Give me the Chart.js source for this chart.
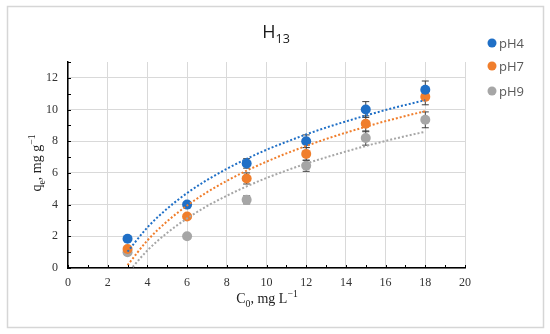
<!DOCTYPE html>
<html>
<head>
<meta charset="utf-8">
<script src="https://cdn.jsdelivr.net/npm/chart.js@4"></script>
<style>
  body { margin: 0; background: #fff; }
  #wrap { width: 550px; height: 334px; }
</style>
</head>
<body>
<div id="wrap"><canvas id="chart" width="550" height="334"></canvas></div>
<script>
// measured points
const concX = [3, 6, 9, 12, 15, 18];
const ph4 = [1.85, 4.0, 6.6, 8.0, 10.0, 11.25];
const ph7 = [1.2, 3.25, 5.65, 7.2, 9.1, 10.8];
const ph9 = [1.0, 2.0, 4.3, 6.45, 8.2, 9.35];
const ph4Err = [0.1, 0.15, 0.3, 0.4, 0.5, 0.55];
const ph7Err = [0.1, 0.1, 0.35, 0.4, 0.5, 0.5];
const ph9Err = [0.1, 0.1, 0.25, 0.35, 0.45, 0.5];

// dotted trend lines
const trendX = [3, 4, 5, 6, 7, 8, 9, 10, 11, 12, 13, 14, 15, 16, 17, 18];
const ph4Trend = [1.03, 2.56, 3.75, 4.73, 5.55, 6.26, 6.89, 7.46, 7.96, 8.43, 8.86, 9.25, 9.62, 9.97, 10.29, 10.59];
const ph7Trend = [0.18, 1.74, 2.95, 3.94, 4.78, 5.5, 6.14, 6.71, 7.23, 7.7, 8.14, 8.54, 8.91, 9.27, 9.59, 9.9];
const ph9Trend = [-0.32, 1.11, 2.22, 3.13, 3.9, 4.56, 5.15, 5.68, 6.15, 6.59, 6.98, 7.35, 7.7, 8.02, 8.32, 8.6];

const seriesNames = ['pH4', 'pH7', 'pH9'];
const colors = ['#1f6fc6', '#f07e2c', '#a6a6a6'];

const serif = '"Liberation Serif", "DejaVu Serif", serif';
const sans = '"Open Sans", "Liberation Sans", sans-serif';

function pts(xs, ys) {
    return xs.map((x, i) => ({x: x, y: ys[i]}));
}

// draws text pieces with sub/superscripts, centred on x
function drawRich(ctx, parts, x, y, size, family) {
    let widths = parts.map(p => {
        ctx.font = (p.s ? size * 0.7 : size) + 'px ' + family;
        return ctx.measureText(p.t).width;
    });
    let total = widths.reduce((a, b) => a + b, 0);
    let cx = x - total / 2;
    ctx.textAlign = 'left';
    ctx.textBaseline = 'alphabetic';
    parts.forEach((p, i) => {
        ctx.font = (p.s ? size * 0.7 : size) + 'px ' + family;
        let dy = p.s === 1 ? -size * 0.4 : (p.s === -1 ? size * 0.25 : 0);
        ctx.fillText(p.t, cx, y + dy);
        cx += widths[i];
    });
}

const errorBars = {
    id: 'errorBars',
    beforeDatasetsDraw(chart) {
        const ctx = chart.ctx;
        const xs = chart.scales.x, ys = chart.scales.y;
        const errs = [ph4Err, ph7Err, ph9Err];
        const vals = [ph4, ph7, ph9];
        ctx.save();
        ctx.strokeStyle = '#404040';
        ctx.lineWidth = 1;
        for (let s = 0; s < 3; s++) {
            for (let i = 0; i < concX.length; i++) {
                let px = xs.getPixelForValue(concX[i]);
                let top = ys.getPixelForValue(vals[s][i] + errs[s][i]);
                let bot = ys.getPixelForValue(vals[s][i] - errs[s][i]);
                ctx.beginPath();
                ctx.moveTo(px, top); ctx.lineTo(px, bot);
                ctx.moveTo(px - 3.5, top); ctx.lineTo(px + 3.5, top);
                ctx.moveTo(px - 3.5, bot); ctx.lineTo(px + 3.5, bot);
                ctx.stroke();
            }
        }
        ctx.restore();
    }
};

const decorations = {
    id: 'decorations',
    beforeDraw(chart) {
        const ctx = chart.ctx;
        ctx.save();
        ctx.fillStyle = '#fff';
        ctx.fillRect(0, 0, chart.width, chart.height);
        ctx.restore();
    },
    afterDraw(chart) {
        const ctx = chart.ctx;
        const xs = chart.scales.x, ys = chart.scales.y;
        const area = chart.chartArea;
        ctx.save();
        // frame
        ctx.strokeStyle = '#d6d6d6';
        ctx.lineWidth = 1.5;
        ctx.strokeRect(7.5, 6.5, 536, 321);
        // minor ticks
        ctx.strokeStyle = '#000';
        ctx.lineWidth = 1;
        ctx.beginPath();
        for (let v = 0; v <= 20; v++) {
            let px = Math.round(xs.getPixelForValue(v)) + 0.5;
            ctx.moveTo(px, area.bottom); ctx.lineTo(px, area.bottom - 3);
        }
        for (let v = 0; v <= 13; v++) {
            let py = Math.round(ys.getPixelForValue(v)) + 0.5;
            ctx.moveTo(area.left, py); ctx.lineTo(area.left + 3, py);
        }
        ctx.stroke();
        // title
        ctx.fillStyle = '#1a1a1a';
        drawRich(ctx, [{t: 'H', s: 0}, {t: '13', s: -1}], 276, 38, 18, sans);
        // axis titles
        ctx.fillStyle = '#222';
        drawRich(ctx, [{t: 'C', s: 0}, {t: '0', s: -1}, {t: ', mg L', s: 0}, {t: '\u22121', s: 1}], 267, 303, 14, serif);
        ctx.translate(41, 163);
        ctx.rotate(-Math.PI / 2);
        drawRich(ctx, [{t: 'q', s: 0}, {t: 'e', s: -1}, {t: ', mg g', s: 0}, {t: '\u22121', s: 1}], 0, 0, 14, serif);
        ctx.setTransform(1, 0, 0, 1, 0, 0);
        // legend
        const legY = [43, 66, 91];
        ctx.font = '13px ' + sans;
        ctx.textAlign = 'left';
        ctx.textBaseline = 'middle';
        for (let i = 0; i < seriesNames.length; i++) {
            ctx.fillStyle = colors[i];
            ctx.beginPath();
            ctx.arc(492, legY[i], 4.5, 0, Math.PI * 2);
            ctx.fill();
            ctx.fillStyle = '#595959';
            ctx.fillText(seriesNames[i], 499, legY[i] + 1);
        }
        ctx.restore();
    }
};

const trendStyle = {
    showLine: true,
    fill: false,
    pointRadius: 0,
    borderWidth: 2,
    borderDash: [2, 2],
    tension: 0.4,
    cubicInterpolationMode: 'monotone'
};

new Chart(document.getElementById('chart').getContext('2d'), {
    type: 'scatter',
    data: {
        datasets: [
            Object.assign({label: 'pH4 trend', data: pts(trendX, ph4Trend), borderColor: colors[0]}, trendStyle),
            Object.assign({label: 'pH7 trend', data: pts(trendX, ph7Trend), borderColor: colors[1]}, trendStyle),
            Object.assign({label: 'pH9 trend', data: pts(trendX, ph9Trend), borderColor: colors[2]}, trendStyle),
            {label: seriesNames[0], data: pts(concX, ph4), pointRadius: 5, backgroundColor: colors[0], borderColor: colors[0], pointBorderWidth: 0},
            {label: seriesNames[1], data: pts(concX, ph7), pointRadius: 5, backgroundColor: colors[1], borderColor: colors[1], pointBorderWidth: 0},
            {label: seriesNames[2], data: pts(concX, ph9), pointRadius: 5, backgroundColor: colors[2], borderColor: colors[2], pointBorderWidth: 0}
        ]
    },
    options: {
        responsive: false,
        animation: false,
        layout: {padding: {left: 0, top: 62, right: 85, bottom: 0}},
        plugins: {
            legend: {display: false},
            title: {display: false},
            tooltip: {enabled: false}
        },
        scales: {
            x: {
                type: 'linear',
                min: 0,
                max: 20,
                afterFit(axis) { axis.height = 66; },
                ticks: {stepSize: 2, padding: 8, color: '#333', font: {family: serif, size: 12}},
                grid: {color: '#d9d9d9', drawTicks: false},
                border: {color: '#000', width: 1.5}
            },
            y: {
                min: 0,
                max: 13,
                afterFit(axis) { axis.width = 68; },
                afterBuildTicks(axis) { axis.ticks = axis.ticks.filter(t => t.value <= 12); },
                ticks: {stepSize: 2, padding: 10, color: '#333', font: {family: serif, size: 12}},
                grid: {color: '#d9d9d9', drawTicks: false},
                border: {color: '#000', width: 1.5}
            }
        }
    },
    plugins: [decorations, errorBars]
});
</script>
</body>
</html>
